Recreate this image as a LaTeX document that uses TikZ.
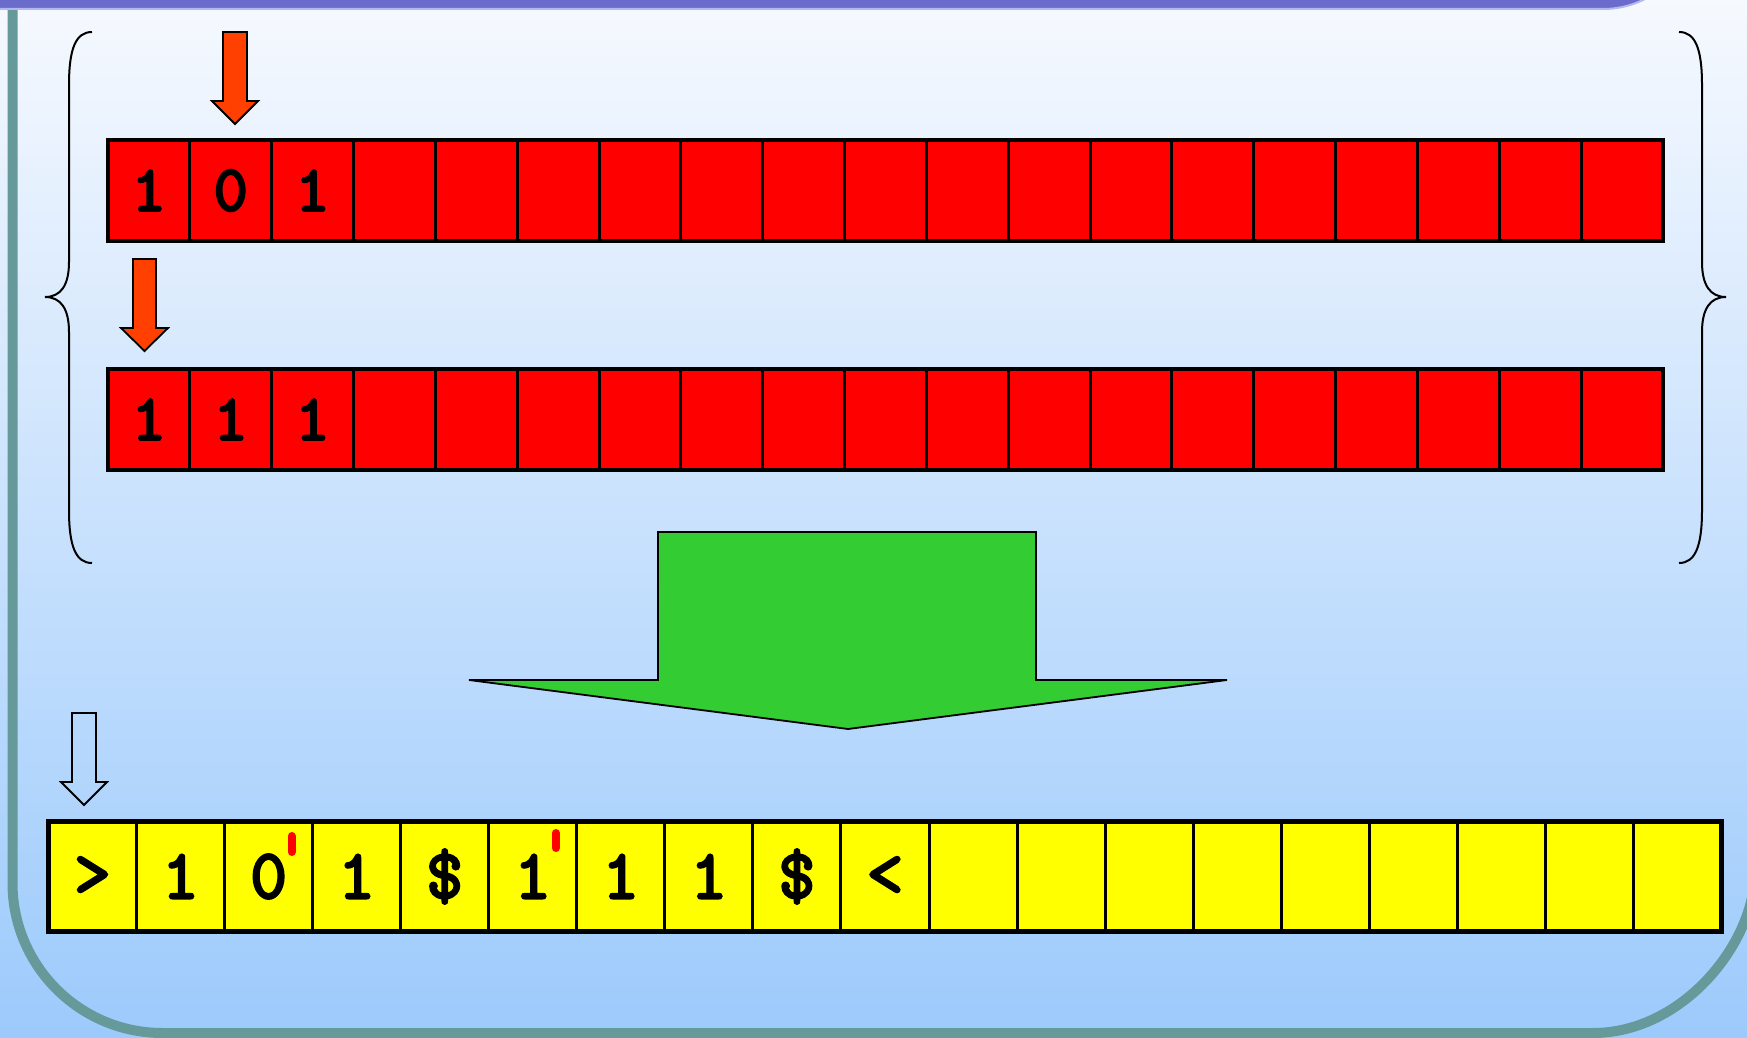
\documentclass[tikz,border=0pt]{standalone}
\usepackage{fontspec}
\newfontfamily\tapefont{lmmonolt10-bold.otf}[FakeBold=1.8]
\usetikzlibrary{calc}
\definecolor{bgtop}{HTML}{F6F9FE}
\definecolor{bgbot}{HTML}{9CCAFC}
\definecolor{frameteal}{HTML}{669999}
\definecolor{bandpurple}{HTML}{6B6BCC}
\definecolor{bandline}{HTML}{B4B8F0}
\definecolor{arrowred}{HTML}{FF4000}
\definecolor{tapered}{HTML}{FF0000}
\definecolor{tapeyellow}{HTML}{FFFF00}
\definecolor{arrowgreen}{HTML}{33CC33}
\tikzset{
  redcell/.style={draw=black, fill=tapered, line width=1.5pt, outer sep=0pt, minimum width=40.92pt, minimum height=50.5pt, inner sep=0pt, font=\tapefont\fontsize{33.5}{40}\selectfont},
  yelcell/.style={draw=black, fill=tapeyellow, line width=1.5pt, outer sep=0pt, minimum width=44.03pt, minimum height=55pt, inner sep=0pt, font=\tapefont\fontsize{36}{43}\selectfont},
  tapeframe/.style={draw=black, line width=2pt},
  blockarrow/.style={draw=black, line width=0.9pt, line join=miter},
  bracestyle/.style={draw=black, line width=1pt},
  primemark/.style={draw=red, line width=4pt, line cap=round}
}
\begin{document}
\begin{tikzpicture}[x=0.5pt,y=-0.5pt]
\useasboundingbox (0,0) rectangle (1747,1038);
% background
\fill[top color=bgtop,bottom color=bgbot] (0,0) rectangle (1747,1038);
% teal frame
\draw[frameteal,line width=5pt] (12.5,-20) -- (12.5,883)
  .. controls (12.5,965.8) and (79.7,1033) .. (162.5,1033)
  -- (1593,1033)
  .. controls (1682.5,1033) and (1755,943.5) .. (1755,871)
  -- (1755,-20);
% purple band
\filldraw[fill=bandpurple,draw=bandline,line width=1pt] (-10,-100) -- (-10,9) -- (1603,9)
  .. controls (1654.4,9) and (1696,-32.6) .. (1696,-84) -- (1696,-100) -- cycle;
% braces
\draw[bracestyle] (92,32) .. controls (76,32) and (69,48) .. (69,85) -- (69,262)
  .. controls (69,285) and (61,297) .. (45,297)
  .. controls (61,297) and (69,309) .. (69,332) -- (69,510)
  .. controls (69,547) and (76,563) .. (92,563);
\draw[bracestyle] (1679,32) .. controls (1695,32) and (1702,48) .. (1702,85) -- (1702,262)
  .. controls (1702,285) and (1710,297) .. (1726,297)
  .. controls (1710,297) and (1702,309) .. (1702,332) -- (1702,510)
  .. controls (1702,547) and (1695,563) .. (1679,563);
% red tape 1
\foreach \i/\t in {1/1,2/0,3/1}
  \node[redcell] (a\i) at ({108+81.84*(\i-0.5)},190.5) {\t};
\foreach \i in {4,...,19}
  \node[redcell] (a\i) at ({108+81.84*(\i-0.5)},190.5) {};
\draw[tapeframe] (a1.north west) rectangle (a19.south east);
% red tape 2
\foreach \i/\t in {1/1,2/1,3/1}
  \node[redcell] (b\i) at ({108+81.84*(\i-0.5)},419.5) {\t};
\foreach \i in {4,...,19}
  \node[redcell] (b\i) at ({108+81.84*(\i-0.5)},419.5) {};
\draw[tapeframe] (b1.north west) rectangle (b19.south east);
% yellow tape
\foreach \i/\t in {1/>,2/1,3/0,4/1,5/\$,6/1,7/1,8/1,9/\$,10/<}
  \node[yelcell] (y\i) at ({48.5+88.05*(\i-0.5)},876.5) {\t};
\foreach \i in {11,...,19}
  \node[yelcell] (y\i) at ({48.5+88.05*(\i-0.5)},876.5) {};
\draw[tapeframe,line width=2.5pt] (y1.north west) rectangle (y19.south east);
% red primes
\draw[primemark] ($(y3.center)+(23,-40.5)$) -- ($(y3.center)+(23,-24.5)$);
\draw[primemark] ($(y6.center)+(23,-43.5)$) -- ($(y6.center)+(23,-28.5)$);
% red arrows
\draw[blockarrow,fill=arrowred] (223,32) -- (247,32) -- (247,101) -- (258,101) -- (235,124) -- (212,101) -- (223,101) -- cycle;
\draw[blockarrow,fill=arrowred] (133,259) -- (156,259) -- (156,328) -- (168,328) -- (144.5,351) -- (121,328) -- (133,328) -- cycle;
% white arrow
\draw[blockarrow] (72,713) -- (96,713) -- (96,782) -- (107,782) -- (84,805) -- (61,782) -- (72,782) -- cycle;
% green arrow
\draw[blockarrow,fill=arrowgreen] (658,532) -- (1036,532) -- (1036,680) -- (1227,680) -- (848,729) -- (469,680) -- (658,680) -- cycle;
\end{tikzpicture}
\end{document}
